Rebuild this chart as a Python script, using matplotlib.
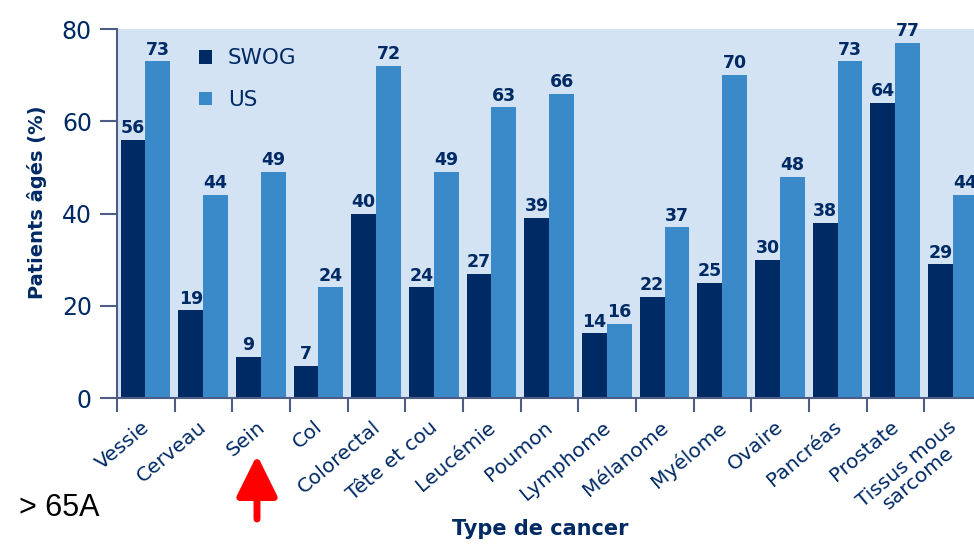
import numpy as np
import matplotlib.pyplot as plt
import matplotlib.transforms as mtransforms
from matplotlib.patches import FancyArrowPatch

# Données
categories = ["Vessie", "Cerveau", "Sein", "Col", "Colorectal", "Tête et cou", "Leucémie",
              "Poumon", "Lymphome", "Mélanome", "Myélome", "Ovaire", "Pancréas", "Prostate",
              "Tissus mous\nsarcome"]
swog = [56, 19, 9, 7, 40, 24, 27, 39, 14, 22, 25, 30, 38, 64, 29]
us = [73, 44, 49, 24, 72, 49, 63, 66, 16, 37, 70, 48, 73, 77, 44]
yticks = [0, 20, 40, 60, 80]

navy = "#002a64"
light = "#3a89c9"
bg = "#d3e3f3"
axcol = "#4d5d85"

plt.rcParams['font.family'] = ["DejaVu Sans"]

fig = plt.figure(figsize=(9.74, 5.49), dpi=100)
ax = fig.add_axes([0.120, 0.275, 0.880, 0.672])
ax.set_facecolor(bg)

x = np.arange(len(categories))
w = 0.43
ax.bar(x + 0.28, swog, width=w, color=navy, zorder=2)
ax.bar(x + 0.71, us, width=w, color=light, zorder=2)

# Étiquettes de valeurs
for xi, v in zip(x, swog):
    ax.text(xi + 0.28, v + 0.6, str(v), ha='center', va='bottom', fontsize=12.5,
            fontweight='bold', color=navy)
for xi, v in zip(x, us):
    ax.text(xi + 0.71, v + 0.6, str(v), ha='center', va='bottom', fontsize=12.5,
            fontweight='bold', color=navy)

ax.set_xlim(0, 15 * 857 / 865)
ax.set_ylim(0, 80)

for s in ['top', 'right']:
    ax.spines[s].set_visible(False)
ax.spines['left'].set_color(axcol)
ax.spines['bottom'].set_color(axcol)
ax.spines['left'].set_linewidth(1.5)
ax.spines['bottom'].set_linewidth(1.5)

ax.set_yticks(yticks)
ax.set_yticklabels([str(t) for t in yticks], fontsize=17, color=navy)
ax.tick_params(axis='y', length=12, width=1.5, color=axcol, pad=6)

ax.set_xticks(np.arange(0, 15))
ax.set_xticklabels([])
ax.tick_params(axis='x', which='major', length=10, width=1.5, color=axcol, direction='out')
ax.set_xticks(x + 0.5, minor=True)
ax.set_xticklabels(categories, minor=True, rotation=40, ha='right', va='top',
                   rotation_mode='anchor', fontsize=14.5, color=navy, linespacing=0.95,
                   multialignment='center')
ax.tick_params(axis='x', which='minor', length=0, pad=14)
shift = mtransforms.ScaledTranslation(-5 / 100, 0, fig.dpi_scale_trans)
for lab in ax.get_xticklabels(minor=True):
    lab.set_transform(lab.get_transform() + shift)

ax.set_ylabel("Patients âgés (%)", fontsize=14, fontweight='bold', color=navy)
ax.yaxis.set_label_coords(-0.082, 0.53)
fig.text(0.555, 0.025, "Type de cancer", fontsize=15, fontweight='bold', color=navy, ha='center')

# Légende
leg = ax.legend(["SWOG", "US"], loc='upper left', bbox_to_anchor=(0.073, 1.0),
                frameon=False, fontsize=15.5, handlelength=0.6, handleheight=0.6,
                handletextpad=0.75, labelspacing=1.0, labelcolor=navy)

fig.text(0.02, 0.06, "> 65A", fontsize=22, color='black', family='Liberation Sans')
arrow = FancyArrowPatch((257 / 974, 1 - 519 / 549), (257 / 974, 1 - 455 / 549),
                        transform=fig.transFigure,
                        arrowstyle='-|>,head_length=1.25,head_width=0.62',
                        mutation_scale=20, color='#ff0000', linewidth=5,
                        joinstyle='round', shrinkA=0, shrinkB=0)
fig.patches.append(arrow)

fig.savefig("out.png", dpi=100)
